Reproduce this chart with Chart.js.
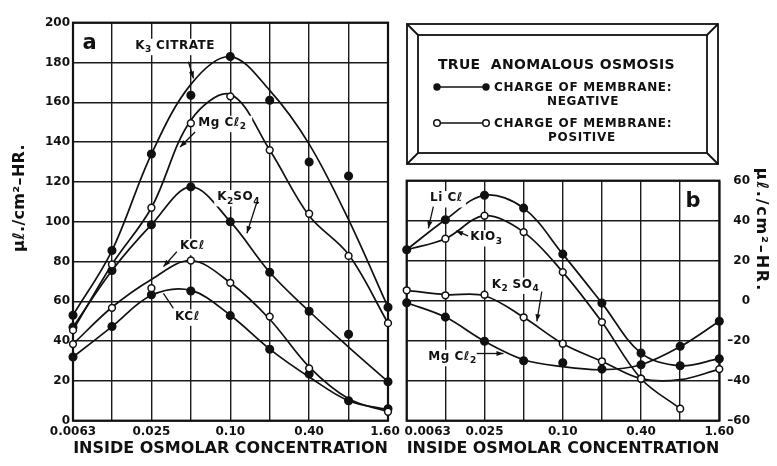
<!DOCTYPE html>
<html>
<head>
<meta charset="utf-8">
<title>True anomalous osmosis</title>
<script src="https://cdn.jsdelivr.net/npm/chart.js@4.4.1/dist/chart.umd.min.js"></script>
<style>
  body { margin: 0; background: #fff; }
  #page { position: relative; width: 777px; height: 466px; overflow: hidden; font-family: "DejaVu Sans", sans-serif; color: #111; }
  canvas { position: absolute; top: 0; }
  .txt { position: absolute; font-weight: bold; line-height: 1; white-space: nowrap; transform: translateY(-50%); }
  .mid { transform: translate(-50%, -50%); }
  .yt { position: absolute; font-weight: bold; font-size: 16px; line-height: 1; white-space: nowrap; }
</style>
</head>
<body>
<div id="page">
  <canvas id="panelA" width="405" height="466" style="left:0"></canvas>
  <canvas id="panelB" width="392" height="466" style="left:385px"></canvas>

  <!-- key box -->
  <svg width="777" height="466" style="position:absolute;left:0;top:0">
    <g stroke="#111" stroke-width="1.8" fill="none">
      <rect x="407" y="24" width="311" height="140"/>
      <rect x="418" y="35" width="289" height="118"/>
      <line x1="407" y1="24" x2="418" y2="35"/>
      <line x1="718" y1="24" x2="707" y2="35"/>
      <line x1="407" y1="164" x2="418" y2="153"/>
      <line x1="718" y1="164" x2="707" y2="153"/>
      <line x1="437" y1="87" x2="486" y2="87" stroke-width="1.6"/>
      <line x1="437" y1="123" x2="486" y2="123" stroke-width="1.6"/>
    </g>
    <circle cx="437" cy="87" r="3.7" fill="#111"/>
    <circle cx="486" cy="87" r="3.7" fill="#111"/>
    <circle cx="437" cy="123" r="3.3" fill="#fff" stroke="#111" stroke-width="1.5"/>
    <circle cx="486" cy="123" r="3.3" fill="#fff" stroke="#111" stroke-width="1.5"/>
  </svg>
  <div class="txt" style="left:438px;top:64px;font-size:14px;letter-spacing:0.3px">TRUE&nbsp; ANOMALOUS OSMOSIS</div>
  <div class="txt" style="left:494px;top:87px;font-size:12px;letter-spacing:0.7px">CHARGE OF MEMBRANE:</div>
  <div class="txt mid" style="left:583px;top:101px;font-size:12px;letter-spacing:0.7px">NEGATIVE</div>
  <div class="txt" style="left:494px;top:123px;font-size:12px;letter-spacing:0.7px">CHARGE OF MEMBRANE:</div>
  <div class="txt mid" style="left:582px;top:137px;font-size:12px;letter-spacing:0.7px">POSITIVE</div>

  <div class="yt" style="left:19px;top:198px;letter-spacing:0.3px;transform:translate(-50%,-50%) rotate(-90deg)">μℓ./cm²–HR.</div>
  <div class="yt" style="left:762px;top:230px;letter-spacing:1.8px;transform:translate(-50%,-50%) rotate(90deg)">μℓ./cm²–HR.</div>
</div>

<script>
// inside osmolar concentration of the measured points
var conc = [0.0063, 0.0125, 0.025, 0.05, 0.10, 0.20, 0.40, 0.80, 1.60];
var concLabels = ['0.0063', '', '0.025', '', '0.10', '', '0.40', '', '1.60'];
var knots = [0.0063, 0.0089, 0.0125, 0.0177, 0.025, 0.035, 0.05, 0.071, 0.10, 0.141, 0.20, 0.283, 0.40, 0.566, 0.80, 1.13, 1.60];

// panel a, points
var citrateA = [53, 85.5, 134, 163.5, 183, 161, 130, 123, 57];
var mgcl2A = [45.5, 78.5, 107, 149.5, 163, 136, 104, 82.8, 49];
var k2so4A = [47, 75.5, 98.5, 117.5, 100, 74.6, 55, 43.4, 19.6];
var kclOpenA = [38.5, 56.7, 66.6, 80.5, 69.3, 52.3, 26.3, null, 4.5];
var kclFullA = [32, 47.3, 63.3, 65.2, 52.8, 35.9, 23.5, 10, 6];
// panel a, curves
var citrateLineA = [53, null, 85.5, null, 134, null, 169, null, 183, null, 166, null, 139, null, 101, null, 57];
var mgcl2LineA = [45.5, null, 78.5, null, 107, null, 151, null, 164, null, 136, null, 103, null, 83.5, null, 49];
var k2so4LineA = [47, null, 75.5, null, 98.5, null, 117.5, null, 100, null, 74.6, null, 55, null, 37, null, 19.6];
var kclOpenLineA = [38.5, null, 57, null, 71, null, 80.5, null, 69.3, null, 51, null, 27, null, 11, null, 4.5];
var kclFullLineA = [32, null, 47.3, null, 63, null, 65.5, null, 53, null, 36, null, 22, null, 10, null, 5.5];

// panel b, points
var liclB = [25.5, 40.5, 52.7, 46.3, 23.3, -1.2, -26.2, -32.5, -29];
var kio3B = [null, 31, 42.5, 34.3, 14.3, -10.7, -39, -54, null];
var k2so4B = [5.2, 2.7, 3, -8.3, -21.5, -30.3, -39, null, -34.2];
var mgcl2B = [-1, -8.2, -20.3, -30, -31, -34.2, -32, -22.8, -10.3];
// panel b, curves
var liclLineB = [25.5, null, 40.5, null, 52.7, null, 46.3, null, 23.3, null, -1.2, null, -26.2, null, -32.5, null, -29];
var kio3LineB = [25.5, null, 31, null, 42.5, null, 34.3, null, 14.3, null, -10.7, null, -39, null, -54, null, null];
var k2so4LineB = [5.2, null, 3, null, 2.5, null, -8.3, null, -21.5, null, -30.3, null, -39, null, -39.5, null, -34.2];
var mgcl2LineB = [-1, null, -8.2, null, -20.3, null, -29.5, null, -33, null, -34.5, null, -32, null, -23, null, -10.3];

var ink = '#111';
var tickFont = { family: 'DejaVu Sans', size: 12, weight: 'bold' };

function pairs(xs, ys) {
    var out = [];
    for (var i = 0; i < xs.length; i++) {
        if (ys[i] !== null) out.push({ x: xs[i], y: ys[i] });
    }
    return out;
}
function curve(ys) {
    return { data: pairs(knots, ys), borderColor: ink, borderWidth: 1.7, pointRadius: 0,
        tension: 0.35, clip: false, order: 2 };
}
function dots(ys, open) {
    return { data: pairs(conc, ys), showLine: false, pointRadius: open ? 3.4 : 3.8, pointBorderWidth: 1.5,
        pointBorderColor: ink, pointBackgroundColor: open ? '#fff' : ink, clip: false, order: 1 };
}

// frame round the plot area, under the marks
var frame = {
    id: 'frame',
    beforeDatasetsDraw: function (chart) {
        var a = chart.chartArea, c = chart.ctx;
        c.save();
        c.lineWidth = 2.2;
        c.strokeStyle = ink;
        c.strokeRect(a.left, a.top, a.right - a.left, a.bottom - a.top);
        c.restore();
    }
};

// curve names with leader arrows, placed in data units
function notes(items) {
    return {
        id: 'notes',
        afterDatasetsDraw: function (chart) {
            var c = chart.ctx, xs = chart.scales.x, ys = chart.scales.y;
            c.save();
            c.textBaseline = 'middle';
            items.forEach(function (n) {
                var size = n.big ? 21 : 12;
                var w = 0;
                n.parts.forEach(function (p) {
                    c.font = 'bold ' + (p[1] ? 9 : size) + 'px "DejaVu Sans"';
                    w += c.measureText(p[0]).width + (p[1] ? 0 : p[0].length * 0.5);
                });
                var x = xs.getPixelForValue(n.x), y = ys.getPixelForValue(n.y);
                if (n.center) x -= w / 2;
                c.fillStyle = '#fff';
                c.fillRect(x - 3, y - size * 0.6, w + 6, size * 1.2 + 2);
                c.fillStyle = ink;
                n.parts.forEach(function (p) {
                    c.font = 'bold ' + (p[1] ? 9 : size) + 'px "DejaVu Sans"';
                    if ('letterSpacing' in c) c.letterSpacing = p[1] ? '0px' : '0.5px';
                    c.fillText(p[0], x, y + (p[1] ? 4 : 0));
                    x += c.measureText(p[0]).width;
                });
                if (n.line) {
                    var x1 = xs.getPixelForValue(n.line[0]), y1 = ys.getPixelForValue(n.line[1]);
                    var x2 = xs.getPixelForValue(n.line[2]), y2 = ys.getPixelForValue(n.line[3]);
                    c.strokeStyle = ink;
                    c.lineWidth = 1.3;
                    c.beginPath();
                    c.moveTo(x1, y1);
                    c.lineTo(x2, y2);
                    c.stroke();
                    if (n.head) {
                        var a = Math.atan2(y2 - y1, x2 - x1), l = 7, h = 2.6;
                        c.beginPath();
                        c.moveTo(x2, y2);
                        c.lineTo(x2 - l * Math.cos(a) + h * Math.sin(a), y2 - l * Math.sin(a) - h * Math.cos(a));
                        c.lineTo(x2 - l * Math.cos(a) - h * Math.sin(a), y2 - l * Math.sin(a) + h * Math.cos(a));
                        c.closePath();
                        c.fill();
                    }
                }
            });
            c.restore();
        }
    };
}

// first/last tick text can be padded so the two panels' labels do not touch
function xAxis(firstLabel, lastLabel) {
    return {
        type: 'logarithmic', min: 0.0063, max: 1.6,
        afterBuildTicks: function (s) { s.ticks = conc.map(function (v) { return { value: v }; }); },
        afterFit: function (s) { s.height = 45.3; s.paddingLeft = 0; s.paddingRight = 0; },
        ticks: { autoSkip: false, maxRotation: 0, padding: 4, color: ink, font: tickFont,
            callback: function (v, i) {
                if (i === 0) return firstLabel;
                if (i === conc.length - 1) return lastLabel;
                return concLabels[i];
            } },
        grid: { color: '#1a1a1a', lineWidth: 1.4, drawTicks: false },
        border: { display: false },
        title: { display: true, text: 'INSIDE OSMOLAR CONCENTRATION', color: ink,
            font: { family: 'DejaVu Sans', size: 16, weight: 'bold' }, padding: { top: 0, bottom: 8 } }
    };
}

function yAxis(min, max, pos, width, pad) {
    return {
        type: 'linear', min: min, max: max, position: pos,
        afterFit: function (s) { s.width = width; s.paddingTop = 0; s.paddingBottom = 0; },
        ticks: { stepSize: 20, padding: pad, color: ink, font: tickFont, crossAlign: pos === 'right' ? 'far' : 'near',
            callback: function (v) { return v < 0 ? '\u2013' + Math.abs(v) : String(v); } },
        grid: { color: '#1a1a1a', lineWidth: 1.4, drawTicks: false },
        border: { display: false }
    };
}

function opts(x, y, padding) {
    return {
        responsive: false, animation: false, events: [],
        layout: { padding: padding },
        plugins: { legend: { display: false }, tooltip: { enabled: false } },
        scales: { x: x, y: y }
    };
}

var sub = 1;
new Chart(document.getElementById('panelA'), {
    type: 'line',
    data: { datasets: [
        curve(citrateLineA), curve(mgcl2LineA), curve(k2so4LineA), curve(kclOpenLineA), curve(kclFullLineA),
        dots(citrateA, false), dots(mgcl2A, true), dots(k2so4A, false), dots(kclOpenA, true), dots(kclFullA, false)
    ] },
    options: opts(xAxis(concLabels[0], concLabels[8] + '\u2002'), yAxis(0, 200, 'left', 73, 3),
        { left: 0, right: 17, top: 22.7, bottom: 0 }),
    plugins: [frame, notes([
        { parts: [['K'], ['3', sub], [' CITRATE']], x: 0.0188, y: 188.3, line: [0.0479, 180.4, 0.0524, 172], head: true },
        { parts: [['Mg Cℓ'], ['2', sub]], x: 0.0569, y: 149.6, line: [0.0539, 145.1, 0.0414, 137.5], head: true },
        { parts: [['K'], ['2', sub], ['SO'], ['4', sub]], x: 0.0795, y: 112.3, line: [0.160, 110, 0.134, 94.2], head: true },
        { parts: [['KCℓ']], x: 0.0414, y: 87.8, line: [0.0391, 84.9, 0.0309, 77.4], head: true },
        { parts: [['KCℓ']], x: 0.0379, y: 52.3, line: [0.0368, 56.5, 0.0309, 64], head: false },
        { parts: [['a']], big: true, center: true, x: 0.0085, y: 189.7 }
    ])]
});

new Chart(document.getElementById('panelB'), {
    type: 'line',
    data: { datasets: [
        curve(liclLineB), curve(kio3LineB), curve(k2so4LineB), curve(mgcl2LineB),
        dots(liclB, false), dots(kio3B, true), dots(k2so4B, true), dots(mgcl2B, false)
    ] },
    options: opts(xAxis('\u2002\u2002\u2002\u2002\u2002\u2002\u2002' + concLabels[0], concLabels[8]),
        yAxis(-60, 60, 'right', 30.7, 9), { left: 21.7, right: 27, top: 180.7, bottom: 0 }),
    plugins: [frame, notes([
        { parts: [['Li Cℓ']], x: 0.00952, y: 51.2, line: [0.0101, 47, 0.00924, 36.2], head: true },
        { parts: [['KIO'], ['3', sub]], x: 0.0194, y: 31.7, line: [0.01869, 32.4, 0.0151, 34.9], head: true },
        { parts: [['K'], ['2', sub], [' SO'], ['4', sub]], x: 0.02845, y: 8, line: [0.069, 4.6, 0.0632, -10.3], head: true },
        { parts: [['Mg Cℓ'], ['2', sub]], x: 0.00924, y: -28.2, line: [0.0218, -26.4, 0.035, -26.4], head: true },
        { parts: [['b']], big: true, center: true, x: 1.011, y: 49.4 }
    ])]
});
</script>
</body>
</html>
